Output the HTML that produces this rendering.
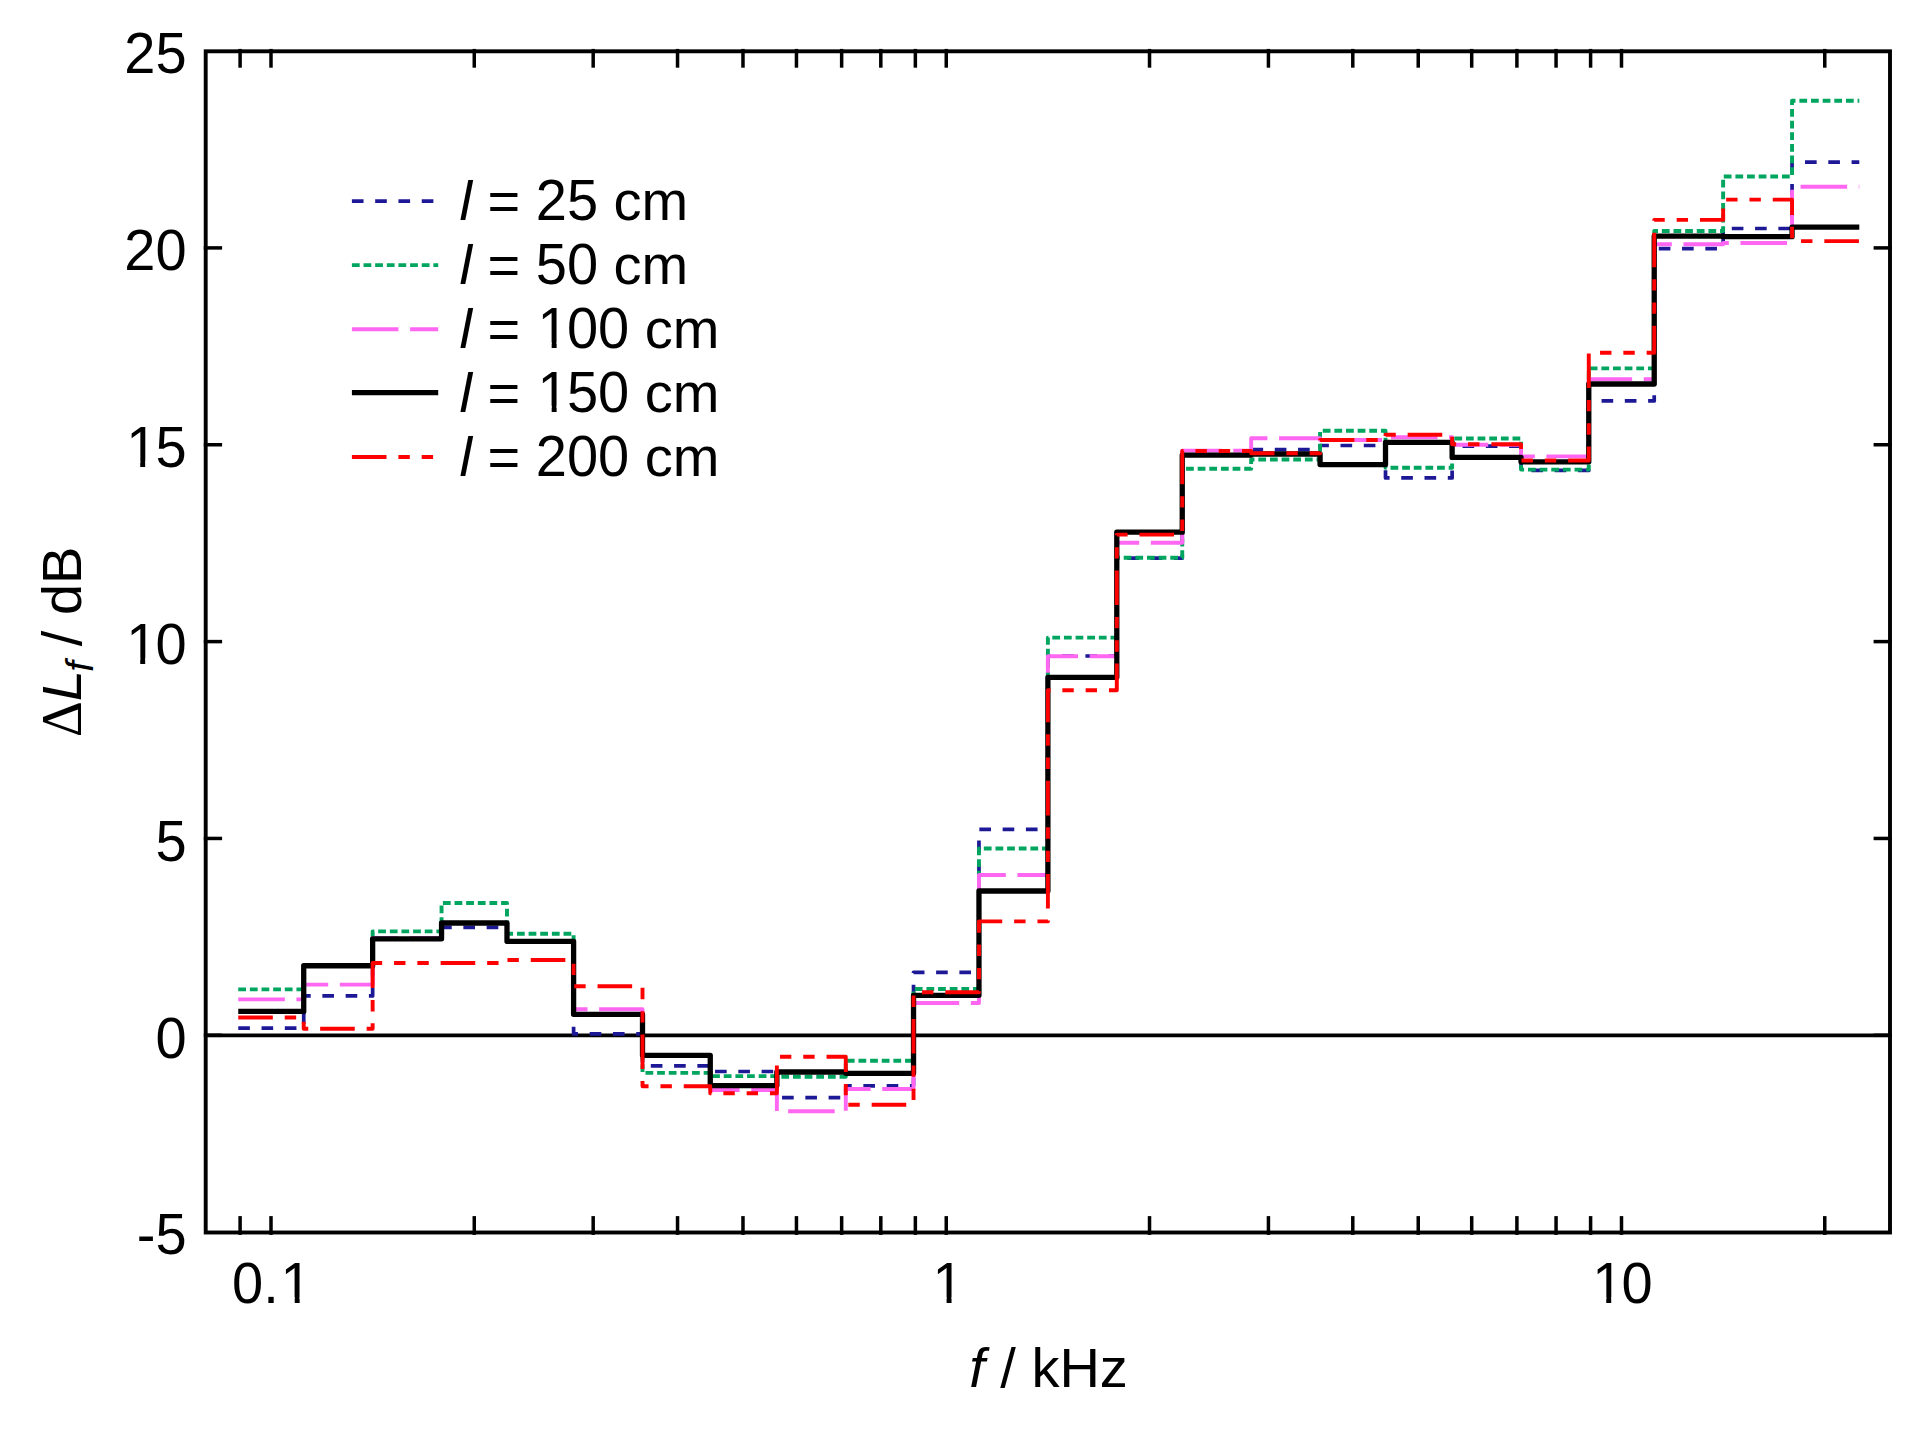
<!DOCTYPE html>
<html lang="en"><head><meta charset="utf-8"><title>ΔLf / dB vs f / kHz</title>
<style>
html,body{margin:0;padding:0;background:#fff;}
svg{display:block;}
text{font-family:"Liberation Sans",Arial,Helvetica,sans-serif;fill:#000;font-kerning:none;}
.it{font-style:italic;}
.sym{font-family:"Liberation Serif","Times New Roman",serif;}
</style></head><body>
<svg width="1928" height="1430" viewBox="0 0 1928 1430">
<rect x="0" y="0" width="1928" height="1430" fill="#ffffff"/>
<defs><clipPath id="c0"><path clip-rule="evenodd" d="M-20 -70H113.43V20H-20ZM5.11 -5.48H15.91V3.00H5.11ZM20.86 -5.48H31.36V3.00H20.86Z"/></clipPath><clipPath id="c1"><path clip-rule="evenodd" d="M-20 -70H113.43V20H-20ZM5.11 -5.48H15.91V3.00H5.11ZM20.86 -5.48H31.36V3.00H20.86Z"/></clipPath><clipPath id="c2"><path clip-rule="evenodd" d="M-20 -70H82.29V20H-20ZM5.11 -5.48H15.91V3.00H5.11ZM20.86 -5.48H31.36V3.00H20.86Z"/></clipPath><clipPath id="c3"><path clip-rule="evenodd" d="M-20 -70H82.29V20H-20ZM5.11 -5.48H15.91V3.00H5.11ZM20.86 -5.48H31.36V3.00H20.86Z"/></clipPath><clipPath id="c4"><path clip-rule="evenodd" d="M-20 -70H97.85V20H-20ZM51.82 -5.48H62.62V3.00H51.82ZM67.57 -5.48H78.07V3.00H67.57Z"/></clipPath><clipPath id="c5"><path clip-rule="evenodd" d="M-20 -70H51.14V20H-20ZM5.11 -5.48H15.91V3.00H5.11ZM20.86 -5.48H31.36V3.00H20.86Z"/></clipPath><clipPath id="c6"><path clip-rule="evenodd" d="M-20 -70H82.29V20H-20ZM5.11 -5.48H15.91V3.00H5.11ZM20.86 -5.48H31.36V3.00H20.86Z"/></clipPath></defs>
<line x1="205.7" y1="1035.40" x2="1890.0" y2="1035.40" stroke="#000" stroke-width="3.6"/>
<g stroke="#000" stroke-width="3.5" fill="none">
<line x1="240.10" y1="1234.90" x2="240.10" y2="1216.10"/>
<line x1="240.10" y1="48.90" x2="240.10" y2="67.70"/>
<line x1="271.00" y1="1234.90" x2="271.00" y2="1216.10"/>
<line x1="271.00" y1="48.90" x2="271.00" y2="67.70"/>
<line x1="474.27" y1="1234.90" x2="474.27" y2="1216.10"/>
<line x1="474.27" y1="48.90" x2="474.27" y2="67.70"/>
<line x1="593.18" y1="1234.90" x2="593.18" y2="1216.10"/>
<line x1="593.18" y1="48.90" x2="593.18" y2="67.70"/>
<line x1="677.54" y1="1234.90" x2="677.54" y2="1216.10"/>
<line x1="677.54" y1="48.90" x2="677.54" y2="67.70"/>
<line x1="742.98" y1="1234.90" x2="742.98" y2="1216.10"/>
<line x1="742.98" y1="48.90" x2="742.98" y2="67.70"/>
<line x1="796.45" y1="1234.90" x2="796.45" y2="1216.10"/>
<line x1="796.45" y1="48.90" x2="796.45" y2="67.70"/>
<line x1="841.65" y1="1234.90" x2="841.65" y2="1216.10"/>
<line x1="841.65" y1="48.90" x2="841.65" y2="67.70"/>
<line x1="880.81" y1="1234.90" x2="880.81" y2="1216.10"/>
<line x1="880.81" y1="48.90" x2="880.81" y2="67.70"/>
<line x1="915.35" y1="1234.90" x2="915.35" y2="1216.10"/>
<line x1="915.35" y1="48.90" x2="915.35" y2="67.70"/>
<line x1="946.25" y1="1234.90" x2="946.25" y2="1216.10"/>
<line x1="946.25" y1="48.90" x2="946.25" y2="67.70"/>
<line x1="1149.52" y1="1234.90" x2="1149.52" y2="1216.10"/>
<line x1="1149.52" y1="48.90" x2="1149.52" y2="67.70"/>
<line x1="1268.43" y1="1234.90" x2="1268.43" y2="1216.10"/>
<line x1="1268.43" y1="48.90" x2="1268.43" y2="67.70"/>
<line x1="1352.79" y1="1234.90" x2="1352.79" y2="1216.10"/>
<line x1="1352.79" y1="48.90" x2="1352.79" y2="67.70"/>
<line x1="1418.23" y1="1234.90" x2="1418.23" y2="1216.10"/>
<line x1="1418.23" y1="48.90" x2="1418.23" y2="67.70"/>
<line x1="1471.70" y1="1234.90" x2="1471.70" y2="1216.10"/>
<line x1="1471.70" y1="48.90" x2="1471.70" y2="67.70"/>
<line x1="1516.90" y1="1234.90" x2="1516.90" y2="1216.10"/>
<line x1="1516.90" y1="48.90" x2="1516.90" y2="67.70"/>
<line x1="1556.06" y1="1234.90" x2="1556.06" y2="1216.10"/>
<line x1="1556.06" y1="48.90" x2="1556.06" y2="67.70"/>
<line x1="1590.60" y1="1234.90" x2="1590.60" y2="1216.10"/>
<line x1="1590.60" y1="48.90" x2="1590.60" y2="67.70"/>
<line x1="1621.50" y1="1234.90" x2="1621.50" y2="1216.10"/>
<line x1="1621.50" y1="48.90" x2="1621.50" y2="67.70"/>
<line x1="1824.77" y1="1234.90" x2="1824.77" y2="1216.10"/>
<line x1="1824.77" y1="48.90" x2="1824.77" y2="67.70"/>
<line x1="203.80" y1="247.90" x2="222.10" y2="247.90"/>
<line x1="1891.90" y1="247.90" x2="1873.60" y2="247.90"/>
<line x1="203.80" y1="444.75" x2="222.10" y2="444.75"/>
<line x1="1891.90" y1="444.75" x2="1873.60" y2="444.75"/>
<line x1="203.80" y1="641.60" x2="222.10" y2="641.60"/>
<line x1="1891.90" y1="641.60" x2="1873.60" y2="641.60"/>
<line x1="203.80" y1="838.45" x2="222.10" y2="838.45"/>
<line x1="1891.90" y1="838.45" x2="1873.60" y2="838.45"/>
<line x1="203.80" y1="1035.30" x2="222.10" y2="1035.30"/>
<line x1="1891.90" y1="1035.30" x2="1873.60" y2="1035.30"/>
</g>
<g fill="none" stroke-linejoin="round" stroke-linecap="butt">
<path d="M238.25 1028.20H303.72V995.90H372.64V938.90H441.55V927.40H506.99V941.80H573.60V1033.90H642.51V1065.90H710.26V1071.50H776.87V1097.60H845.78V1085.80H913.53V972.30H978.97V829.30H1047.89V656.00H1116.80V558.20H1182.24V455.10H1251.16V449.60H1320.07V445.50H1385.51V477.90H1452.12V446.10H1521.03V470.40H1588.78V400.90H1654.22V248.60H1723.14V228.50H1792.05V162.05H1859.30" stroke="#1d1896" stroke-width="3.7" stroke-dasharray="11.64 11.64"/>
<path d="M238.25 989.35H303.72V965.80H372.64V931.40H441.55V903.00H506.99V933.70H573.60V1014.30H642.51V1072.90H710.26V1076.10H776.87V1076.70H845.78V1060.70H913.53V989.00H978.97V848.50H1047.89V637.60H1116.80V557.70H1182.24V468.70H1251.16V459.50H1320.07V430.80H1385.51V467.80H1452.12V438.50H1521.03V469.60H1588.78V368.40H1654.22V231.00H1723.14V176.50H1792.05V100.80H1859.30" stroke="#00a55f" stroke-width="3.9" stroke-dasharray="7.76 3.88"/>
<path d="M238.25 999.40H303.72V984.60H372.64V938.00H441.55V922.90H506.99V942.00H573.60V1009.30H642.51V1055.30H710.26V1090.00H776.87V1111.30H845.78V1089.00H913.53V1003.00H978.97V875.00H1047.89V656.20H1116.80V542.80H1182.24V450.60H1251.16V438.20H1320.07V440.00H1385.51V437.30H1452.12V444.80H1521.03V456.40H1588.78V379.10H1654.22V244.20H1723.14V243.00H1792.05V186.70H1859.30" stroke="#ff66f2" stroke-width="3.9" stroke-dasharray="46.56 11.64"/>
<path d="M238.25 1011.40H303.72V965.75H372.64V938.80H441.55V923.00H506.99V941.30H573.60V1014.30H642.51V1055.30H710.26V1085.60H776.87V1072.00H845.78V1073.30H913.53V995.30H978.97V891.00H1047.89V677.30H1116.80V532.20H1182.24V455.10H1251.16V454.00H1320.07V464.60H1385.51V442.40H1452.12V457.40H1521.03V461.80H1588.78V384.00H1654.22V236.05H1723.14V236.70H1792.05V227.20H1859.30" stroke="#000000" stroke-width="5.3"/>
<path d="M238.25 1017.50H303.72V1028.70H372.64V963.00H441.55H506.99V960.00H573.60V986.30H642.51V1086.30H710.26V1093.20H776.87V1056.70H845.78V1104.70H913.53V992.20H978.97V921.40H1047.89V690.30H1116.80V534.60H1182.24V451.00H1251.16V453.20H1320.07V440.00H1385.51V434.80H1452.12V444.20H1521.03V460.50H1588.78V352.80H1654.22V219.90H1723.14V199.60H1792.05V241.10H1859.30" stroke="#ff0000" stroke-width="3.9" stroke-dasharray="34.6 11.9 11.4 11.9 11.4 11.9"/>
</g>
<rect x="205.7" y="51.3" width="1684.30" height="1181.20" fill="none" stroke="#000" stroke-width="3.9"/>
<g fill="none" stroke-linecap="butt">
<line x1="351.9" y1="201.1" x2="438.2" y2="201.1" stroke="#1d1896" stroke-width="3.7" stroke-dasharray="11.64 11.64"/>
<line x1="351.9" y1="265.1" x2="438.2" y2="265.1" stroke="#00a55f" stroke-width="3.9" stroke-dasharray="7.76 3.88"/>
<line x1="351.9" y1="329.3" x2="438.2" y2="329.3" stroke="#ff66f2" stroke-width="3.9" stroke-dasharray="46.56 11.64"/>
<line x1="351.9" y1="392.7" x2="438.2" y2="392.7" stroke="#000000" stroke-width="5.3"/>
<line x1="351.9" y1="457.0" x2="438.2" y2="457.0" stroke="#ff0000" stroke-width="3.9" stroke-dasharray="34.6 11.9 11.4 11.9 11.4 11.9"/>
</g>
<g font-size="56">
<text x="459.5" y="219.9"><tspan class="it">l</tspan> =</text>
<text transform="translate(535.76 219.90) scale(1 1.04)">25</text>
<text x="613.61" y="219.9">cm</text>
<text x="459.5" y="283.9"><tspan class="it">l</tspan> =</text>
<text transform="translate(535.76 283.90) scale(1 1.04)">50</text>
<text x="613.61" y="283.9">cm</text>
<text x="459.5" y="348.1"><tspan class="it">l</tspan> =</text>
<text transform="translate(535.76 348.10) scale(1 1.04)" clip-path="url(#c0)" dx="1.83 -1.83 0.00">100</text>
<text x="644.75" y="348.1">cm</text>
<text x="459.5" y="411.5"><tspan class="it">l</tspan> =</text>
<text transform="translate(535.76 411.50) scale(1 1.04)" clip-path="url(#c1)" dx="1.83 -1.83 0.00">150</text>
<text x="644.75" y="411.5">cm</text>
<text x="459.5" y="475.8"><tspan class="it">l</tspan> =</text>
<text transform="translate(535.76 475.80) scale(1 1.04)">200</text>
<text x="644.75" y="475.8">cm</text>
<text transform="translate(124.31 73.35) scale(1 1.04)">25</text>
<text transform="translate(124.31 270.20) scale(1 1.04)">20</text>
<text transform="translate(124.31 467.05) scale(1 1.04)" clip-path="url(#c2)" dx="1.83 -1.83">15</text>
<text transform="translate(124.31 663.90) scale(1 1.04)" clip-path="url(#c3)" dx="1.83 -1.83">10</text>
<text transform="translate(155.46 860.75) scale(1 1.04)">5</text>
<text transform="translate(155.46 1057.60) scale(1 1.04)">0</text>
<text transform="translate(136.81 1254.45) scale(1 1.04)">-5</text>
<text transform="translate(232.08 1303.00) scale(1 1.04)" clip-path="url(#c4)" dx="0.00 0.00 1.83">0.1</text>
<text transform="translate(930.68 1303.00) scale(1 1.04)" clip-path="url(#c5)" dx="1.83">1</text>
<text transform="translate(1590.36 1303.00) scale(1 1.04)" clip-path="url(#c6)" dx="1.83 -1.83">10</text>
<text x="969.2" y="1387.4"><tspan class="it">f</tspan> / kHz</text>
<text transform="translate(81.2 737.2) rotate(-90)"><tspan class="sym">Δ</tspan><tspan class="it">L</tspan><tspan class="it" font-size="38.5" dy="11.3" dx="-1.8">f</tspan><tspan dy="-11.3" dx="-0.6"> / dB</tspan></text>
</g>
</svg>
</body></html>
